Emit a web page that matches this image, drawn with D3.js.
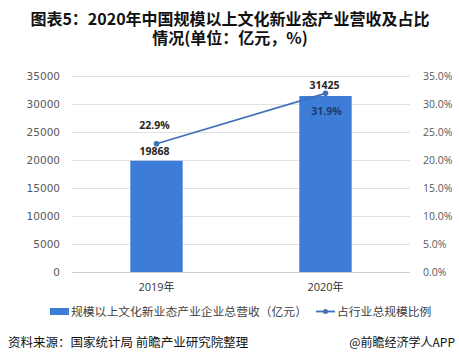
<!DOCTYPE html>
<html>
<head>
<meta charset="utf-8">
<script src="https://cdn.jsdelivr.net/npm/d3@7"></script>
<style>
  body { margin: 0; background: #fff; }
  svg { display: block; font-family: "DejaVu Sans", sans-serif; }
</style>
</head>
<body>
<svg id="chart" width="459" height="363"></svg>
<script>
// chart data
const years = ["2019年", "2020年"];
const revenue = [19868, 31425];
const share = [22.9, 31.9];
const leftTicks = [0, 5000, 10000, 15000, 20000, 25000, 30000, 35000];
const rightTicks = [0, 5, 10, 15, 20, 25, 30, 35];
const titleLines = ["图表5：2020年中国规模以上文化新业态产业营收及占比", "情况(单位：亿元，%)"];

const svg = d3.select("#chart");
const plotL = 72, plotR = 410, plotT = 76, plotB = 272;

const x = d3.scaleBand().domain(years).range([plotL, plotR]).paddingInner(0.69).paddingOuter(0.345);
const yL = d3.scaleLinear().domain([0, 35000]).range([plotB, plotT]);
const yR = d3.scaleLinear().domain([0, 35]).range([plotB, plotT]);

// title (one text block, wrapped in two lines)
svg.append("text").attr("y", 25).attr("text-anchor", "middle")
  .style("font-family", "'Noto Sans CJK SC', sans-serif")
  .style("font-weight", "bold").style("font-size", "16px").attr("fill", "#111")
  .selectAll("tspan").data(titleLines).enter().append("tspan")
  .attr("x", 230).attr("dy", function(d, i) { return i ? 19 : 0; })
  .text(function(d) { return d; });

// grid
svg.append("g").selectAll("line").data(leftTicks).enter().append("line")
  .attr("x1", plotL).attr("x2", plotR)
  .attr("y1", function(d) { return yL(d) + 0.5; }).attr("y2", function(d) { return yL(d) + 0.5; })
  .attr("stroke", function(d) { return d === 0 ? "#cfcfcf" : "#e2e2e2"; }).attr("stroke-width", 1);

// left axis
const axL = svg.append("g").attr("transform", `translate(${plotL - 12},0)`)
  .call(d3.axisLeft(yL).tickValues(leftTicks).tickSize(0).tickPadding(0).tickFormat(d3.format("d")));
axL.select(".domain").remove();
axL.selectAll("text").style("font-size", "10.5px").attr("fill", "#595959").style("font-family", "'DejaVu Sans', sans-serif");

// right axis
const axR = svg.append("g").attr("transform", `translate(${plotR + 13},0)`)
  .call(d3.axisRight(yR).tickValues(rightTicks).tickSize(0).tickPadding(0).tickFormat(function(d) { return d.toFixed(1) + "%"; }));
axR.select(".domain").remove();
axR.selectAll("text").style("font-size", "10.5px").attr("fill", "#595959").style("font-family", "'Open Sans', sans-serif");

// bottom axis labels
const axB = svg.append("g").attr("transform", `translate(0,${plotB + 5})`)
  .call(d3.axisBottom(x).tickSize(0).tickPadding(6));
axB.select(".domain").remove();
axB.selectAll("text").style("font-size", "11px").attr("fill", "#333")
  .style("font-family", "'Open Sans', 'Noto Sans CJK SC', sans-serif");

// bars
svg.append("g").selectAll("rect").data(revenue).enter().append("rect")
  .attr("x", function(d, i) { return x(years[i]); })
  .attr("y", function(d) { return yL(d); })
  .attr("width", x.bandwidth())
  .attr("height", function(d) { return plotB - yL(d); })
  .attr("fill", "#3d7dd8");

// share line
const line = d3.line()
  .x(function(d, i) { return x(years[i]) + x.bandwidth() / 2; })
  .y(function(d) { return yR(d); });
svg.append("path").datum(share).attr("d", line)
  .attr("fill", "none").attr("stroke", "#4170b8").attr("stroke-width", 1.8);
svg.append("g").selectAll("circle").data(share).enter().append("circle")
  .attr("cx", function(d, i) { return x(years[i]) + x.bandwidth() / 2; })
  .attr("cy", function(d) { return yR(d); })
  .attr("r", 2.8).attr("fill", "#4170b8");

// value labels
const lbl = svg.append("g").style("font-size", "10.5px").style("font-weight", "bold")
  .style("font-family", "'Open Sans', sans-serif").attr("text-anchor", "middle");
lbl.selectAll(".rv").data(revenue).enter().append("text")
  .attr("x", function(d, i) { return x(years[i]) + x.bandwidth() / 2 + (i ? -1 : -2); })
  .attr("y", function(d, i) { return i ? yL(d) - 7 : yL(d) - 6; })
  .attr("fill", "#262626")
  .text(function(d) { return d; });
lbl.selectAll(".sv").data(share).enter().append("text")
  .attr("x", function(d, i) { return x(years[i]) + x.bandwidth() / 2 + (i ? 1 : -2); })
  .attr("y", function(d, i) { return i ? yR(d) + 22 : yR(d) - 15; })
  .attr("fill", function(d, i) { return i ? "#1d3b70" : "#262626"; })
  .text(function(d) { return d.toFixed(1) + "%"; });

// legend
const lg = svg.append("g").style("font-family", "'Noto Sans CJK SC', sans-serif").style("font-size", "11.8px").attr("fill", "#404040");
lg.append("rect").attr("x", 50).attr("y", 308).attr("width", 19).attr("height", 7).attr("fill", "#3d7dd8");
lg.append("text").attr("x", 71).attr("y", 316).text("规模以上文化新业态产业企业总营收（亿元）");
lg.append("line").attr("x1", 316).attr("x2", 335).attr("y1", 311.5).attr("y2", 311.5).attr("stroke", "#4170b8").attr("stroke-width", 1.8);
lg.append("circle").attr("cx", 325.5).attr("cy", 311.5).attr("r", 2.5).attr("fill", "#4170b8");
lg.append("text").attr("x", 337).attr("y", 316).text("占行业总规模比例");

// footer
svg.append("text").attr("x", 8).attr("y", 347)
  .style("font-family", "'Noto Sans CJK SC', sans-serif").style("font-size", "12.5px").attr("fill", "#111")
  .text("资料来源：国家统计局 前瞻产业研究院整理");
svg.append("text").attr("x", 455).attr("y", 347).attr("text-anchor", "end")
  .style("font-family", "'Noto Sans CJK SC', sans-serif").style("font-size", "12px").attr("fill", "#111")
  .text("@前瞻经济学人APP");
</script>
</body>
</html>
